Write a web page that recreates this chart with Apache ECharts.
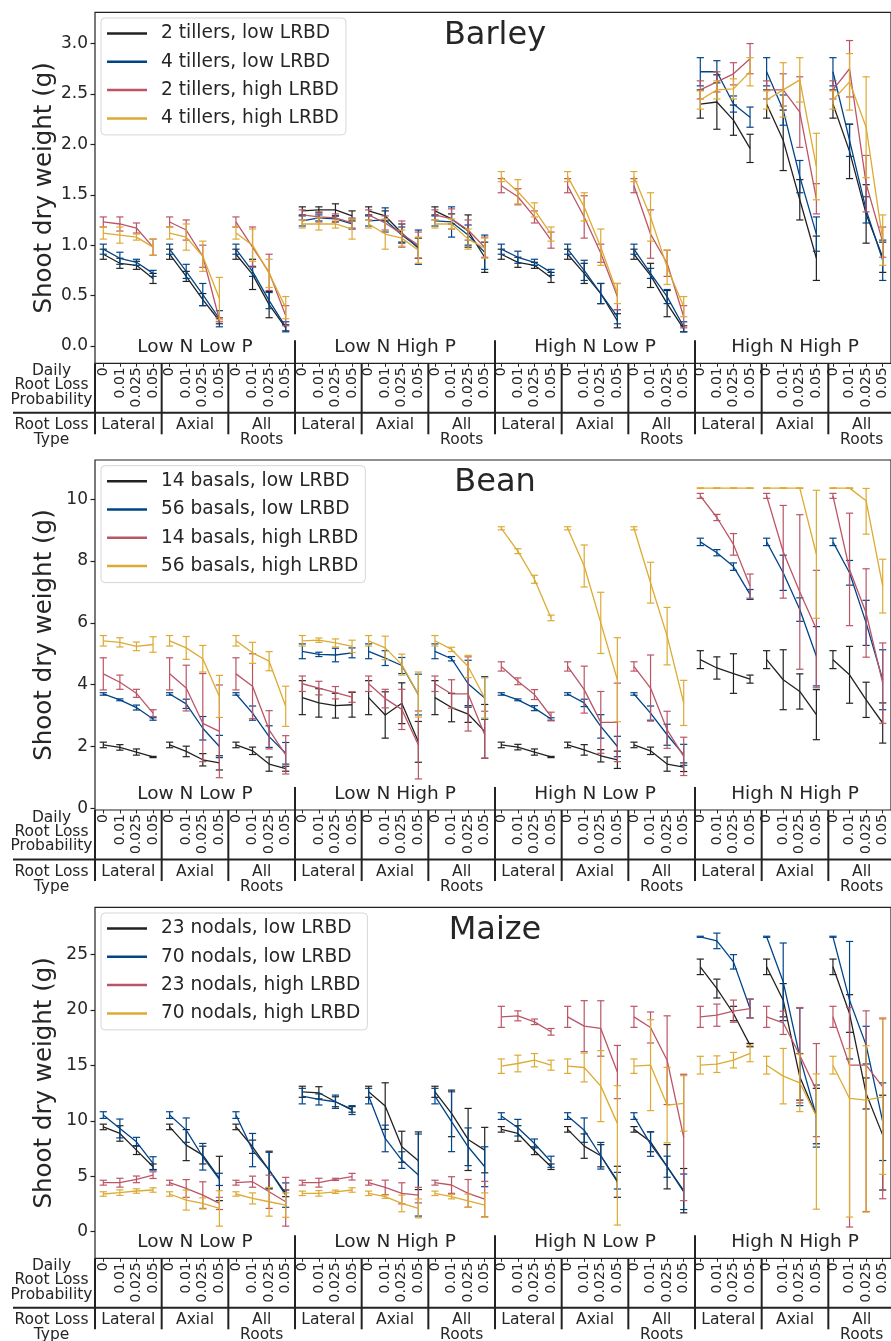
<!DOCTYPE html>
<html>
<head>
<meta charset="utf-8">
<script src="https://cdn.jsdelivr.net/npm/echarts@6/dist/echarts.min.js"></script>
<style>
  html, body { margin: 0; padding: 0; background: #fff; }
  #chart { width: 891px; height: 1341px; }
</style>
</head>
<body>
<div id="chart"></div>
<script>
// x layout: 4 nutrient groups x 3 root loss types x 4 probabilities
const nutrientGroups = ['Low N Low P', 'Low N High P', 'High N Low P', 'High N High P'];
const lossTypes = ['Lateral', 'Axial', 'All\nRoots'];
const probLabels = ['0', '0.01', '0.025', '0.05'];
const colors = ['#222222', '#004488', '#BB5566', '#DDAA33'];

// error entries: a number is a symmetric bar, [down, up] is an uneven one

// ---- Barley ----
const barleyNames = ['2 tillers, low LRBD', '4 tillers, low LRBD', '2 tillers, high LRBD', '4 tillers, high LRBD'];
const barleyTicks = [0, 0.5, 1, 1.5, 2, 2.5, 3];
const barleyMean = [
  [0.91,0.82,0.80,0.67, 0.91,0.69,0.46,0.25, 0.91,0.71,0.41,0.18,
   1.34,1.35,1.35,1.29, 1.34,1.29,1.12,0.97, 1.34,1.26,1.14,0.88,
   0.91,0.83,0.80,0.68, 0.91,0.72,0.52,0.25, 0.91,0.70,0.42,0.17,
   2.40,2.42,2.24,1.96, 2.40,2.04,1.45,0.87, 2.40,1.93,1.31,0.88],
  [0.96,0.87,0.83,0.72, 0.96,0.74,0.51,0.27, 0.96,0.74,0.45,0.19,
   1.24,1.27,1.26,1.21, 1.24,1.25,1.10,0.98, 1.24,1.23,1.10,0.93,
   0.96,0.88,0.83,0.73, 0.96,0.75,0.52,0.29, 0.96,0.72,0.49,0.19,
   2.72,2.72,2.40,2.27, 2.72,2.34,1.68,1.11, 2.72,2.04,1.35,0.85],
  [1.23,1.21,1.17,0.98, 1.23,1.15,0.89,0.26, 1.23,0.98,0.73,0.30,
   1.30,1.28,1.27,1.22, 1.30,1.22,1.11,1.00, 1.30,1.26,1.15,0.98,
   1.59,1.48,1.28,1.05, 1.59,1.28,0.92,0.49, 1.59,1.11,0.82,0.29,
   2.54,2.62,2.70,2.85, 2.54,2.54,2.32,1.46, 2.54,2.75,1.61,1.03],
  [1.12,1.10,1.08,0.98, 1.12,1.08,0.89,0.47, 1.12,1.00,0.72,0.38,
   1.21,1.21,1.21,1.16, 1.21,1.11,1.07,0.95, 1.21,1.21,1.06,0.97,
   1.68,1.53,1.35,1.11, 1.68,1.38,0.98,0.52, 1.68,1.28,0.78,0.39,
   2.44,2.54,2.55,2.72, 2.44,2.54,2.64,1.78, 2.44,2.62,2.17,1.05]
];
const barleyErr = [
  [.05,.05,.04,.05, .05,.05,.06,.03, .05,.15,.13,.03,
   .04,.03,.06,.05, .04,.05,.09,.10, .04,.05,.16,.15,
   .05,.05,.03,.05, .05,.10,.10,.07, .05,.12,.13,.03,
   .14,.27,.15,.14, .14,.30,.20,.22, .14,.27,.29,.15],
  [.05,.06,.03,.03, .05,.07,.11,.08, .05,.05,.08,.05,
   .05,.03,.03,.05, .05,.12,.08,.17, .05,.15,.10,.17,
   .05,.06,.03,.03, .05,.10,.10,.07, .05,.05,.07,.05,
   .14,.11,.08,.10, .14,.15,.16,.17, .14,.16,.13,.20],
  [.05,.07,.05,.08, .05,.10,.11,.02, .05,.20,.18,.10,
   .05,.05,.04,.05, .05,.07,.13,.13, .05,.10,.10,.10,
   .07,.08,.06,.08, .07,.21,.09,.13, .07,.24,.13,.11,
   .09,.10,.11,.15, .09,.16,.35,.15, .09,.28,.28,.15],
  [.06,.08,.03,.08, .06,.13,.15,.21, .06,.16,.14,.11,
   .04,.06,.04,.10, .04,.15,.08,.13, .04,.05,.10,.10,
   .05,.12,.07,.07, .05,.14,.18,.10, .05,.24,.17,.10,
   .09,.09,.10,.14, .09,.27,.22,.33, .09,.28,.50,.25]
];

// ---- Bean ----
const beanNames = ['14 basals, low LRBD', '56 basals, low LRBD', '14 basals, high LRBD', '56 basals, high LRBD'];
const beanTicks = [0, 2, 4, 6, 8, 10];
const beanMean = [
  [2.05,1.97,1.82,1.66, 2.05,1.84,1.57,1.47, 2.05,1.86,1.43,1.28,
   3.58,3.41,3.32,3.35, 3.58,3.02,3.40,2.15, 3.58,3.26,3.05,2.49,
   2.05,1.98,1.82,1.66, 2.05,1.89,1.70,1.57, 2.05,1.86,1.43,1.33,
   4.81,4.54,4.36,4.18, 4.81,4.16,3.78,3.03, 4.81,4.32,3.51,2.76],
  [3.70,3.51,3.26,2.89, 3.70,3.38,2.59,2.00, 3.70,3.08,2.32,1.78,
   5.08,4.98,4.96,5.03, 5.08,4.86,4.62,3.68, 5.08,4.84,4.03,3.57,
   3.70,3.51,3.24,2.89, 3.70,3.41,2.65,2.00, 3.70,3.08,2.38,1.73,
   8.62,8.27,7.82,6.92, 8.62,7.62,6.43,4.92, 8.62,7.62,6.00,4.16],
  [4.35,4.08,3.72,3.08, 4.35,3.89,2.75,2.49, 4.35,3.95,2.54,1.73,
   4.03,3.89,3.74,3.60, 4.03,3.55,3.20,2.05, 4.03,3.70,3.70,2.38,
   4.59,4.11,3.68,2.97, 4.59,3.84,2.78,2.78, 4.59,3.89,2.54,1.68,
   10.11,9.41,8.54,7.19, 10.11,8.30,7.00,5.80, 10.11,7.73,6.32,4.05],
  [5.42,5.37,5.24,5.30, 5.42,5.19,4.84,3.62, 5.42,5.03,4.76,3.30,
   5.42,5.44,5.35,5.24, 5.42,5.19,4.65,3.68, 5.42,5.14,4.59,3.57,
   9.06,8.32,7.41,6.16, 9.06,7.84,6.00,4.16, 9.06,7.30,5.57,3.41,
   10.36,10.36,10.36,10.36, 10.36,10.36,10.36,8.22, 10.36,10.36,9.95,7.19]
];
const beanErr = [
  [.09,.09,.10,.02, .09,.17,.20,.23, .09,.12,.23,.08,
   .55,.46,.40,.40, .55,.75,.66,.66, .55,.46,.27,.87,
   .09,.09,.10,.02, .09,.17,.20,.28, .09,.12,.23,.14,
   .29,.36,.64,.13, .29,.97,.57,.81, .29,.92,.57,.65],
  [.04,.03,.08,.04, .04,.15,.38,.36, .04,.23,.35,.35,
   .24,.07,.22,.16, .24,.24,.26,.66, .24,.07,.76,.69,
   .04,.03,.08,.04, .04,.12,.38,.33, .04,.23,.34,.34,
   .12,.10,.12,.16, .12,.57,.38,.96, .12,.40,.73,.97],
  [.52,.23,.13,.11, .52,.74,[1.24,1.61],1.50, .52,1.05,.62,.62,
   .25,.22,.20,.17, .25,.30,.65,1.10, .25,.46,1.20,.76,
   .15,.11,.16,.14, .15,.76,1.00,1.27, .15,1.07,.60,.62,
   .08,.10,.35,.39, .08,1.50,2.50,1.90, .08,1.82,1.43,1.30],
  [.17,.15,.14,.25, .17,.37,.43,.68, .17,.34,.31,.65,
   .17,.07,.13,.20, .17,.38,.34,.73, .17,.07,.36,.65,
   .05,.08,.13,.09, .05,.68,.99,1.36, .05,.66,.93,.73,
   .01,.01,.01,.01, .01,.01,.01,2.07, .01,.01,[1.08,0.40],.87]
];

// ---- Maize ----
const maizeNames = ['23 nodals, low LRBD', '70 nodals, low LRBD', '23 nodals, high LRBD', '70 nodals, high LRBD'];
const maizeTicks = [0, 5, 10, 15, 20, 25];
const maizeMean = [
  [9.45,8.86,7.36,5.86, 9.45,7.81,6.91,4.80, 9.45,7.66,5.56,3.46,
   12.62,12.53,11.72,11.03, 12.62,11.33,7.66,6.40, 12.62,10.67,8.32,7.36,
   9.23,8.86,7.30,5.86, 9.23,7.72,6.85,4.50, 9.23,8.11,5.86,3.70,
   23.89,21.93,19.68,16.83, 23.89,20.88,13.97,10.43, 23.89,19.68,12.47,8.71],
  [10.52,9.31,8.11,6.16, 10.52,9.16,6.76,4.72, 10.52,7.36,5.56,3.30,
   12.23,11.93,11.72,10.97, 12.23,8.41,6.46,5.11, 12.23,9.92,7.66,5.86,
   10.43,9.38,7.96,6.31, 10.43,9.16,6.85,4.60, 10.43,7.90,5.86,3.60,
   26.60,26.23,24.34,20.13, 26.60,22.54,15.77,10.43, 26.60,20.88,16.83,9.92],
  [4.42,4.42,4.72,5.10, 4.42,3.90,3.30,2.55, 4.42,4.51,3.60,2.70,
   4.42,4.42,4.72,4.96, 4.42,4.00,3.46,3.30, 4.42,4.21,3.46,2.94,
   19.38,19.47,18.93,18.03, 19.38,18.54,18.33,14.40, 19.38,18.42,15.47,8.50,
   19.38,19.53,19.89,20.13, 19.38,18.84,15.92,12.77, 19.38,15.02,15.02,13.07],
  [3.40,3.52,3.67,3.76, 3.40,2.85,2.55,2.10, 3.40,3.00,2.70,2.40,
   3.46,3.46,3.60,3.76, 3.46,3.16,2.55,2.10, 3.46,3.16,2.79,2.40,
   14.93,15.17,15.47,15.02, 14.93,14.81,13.13,9.77, 14.93,15.02,11.42,11.57,
   15.02,15.11,15.47,16.08, 15.02,14.03,13.43,10.43, 15.02,12.02,11.87,12.17]
];
const maizeErr = [
  [.25,.70,.40,.25, .25,1.40,.80,2.00, .25,.60,1.70,.30,
   .50,.55,.45,.25, .50,2.10,1.40,2.60, .50,2.10,2.80,2.05,
   .25,.70,.35,.25, .25,1.10,1.00,1.40, .25,.90,2.00,2.00,
   .70,.85,.65,.15, .70,1.50,2.10,2.50, .70,1.70,1.40,[4.95,3.60]],
  [.30,.85,.40,.60, .30,1.10,1.20,.55, .30,1.50,1.60,1.10,
   .70,.50,.60,.40, .70,1.20,.75,3.70, .70,2.70,1.70,1.80,
   .30,.75,.40,.50, .30,1.10,1.20,.75, .30,1.10,.95,1.60,
   .05,.70,.65,.85, .05,3.50,4.40,2.80, .05,5.30,1.70,3.50],
  [.22,.40,.30,.30, .22,.80,1.20,.55, .22,.50,1.50,2.20,
   .22,.40,.10,.30, .22,.65,.95,.70, .22,.75,1.25,1.60,
   .95,.45,.25,.30, .95,2.30,2.50,2.40, .95,1.40,4.00,5.70,
   .95,1.00,1.00,.85, .95,1.05,4.30,4.20, .95,[14.60,5.20],[13.20,4.90],[10.10,6.20]],
  [.20,.25,.20,.20, .20,.90,.50,1.60, .20,.50,1.30,1.10,
   .20,.25,.15,.20, .20,.15,.75,.85, .20,.20,.60,1.10,
   .65,.75,.60,.45, .65,1.30,3.20,[9.17,3.40], .65,4.10,3.40,2.50,
   .80,.75,.70,.75, .80,2.50,2.60,[8.40,3.80], .80,[10.70,4.50],[10.10,4.90],7.00]
];

// ---- layout ----
const FONT = 'DejaVu Sans';
const TXT = '#262626';
const LEFT = 95, PLOT_W = 800, N = 48, STEP = PLOT_W / N;

const panels = [
  { title: 'Barley', names: barleyNames, mean: barleyMean, err: barleyErr, ticks: barleyTicks,
    top: 12.3, height: 351, min: -0.172, max: 3.31, fmt: v => v.toFixed(1) },
  { title: 'Bean', names: beanNames, mean: beanMean, err: beanErr, ticks: beanTicks,
    top: 460, height: 350, min: -0.055, max: 11.27, fmt: v => String(v) },
  { title: 'Maize', names: maizeNames, mean: maizeMean, err: maizeErr, ticks: maizeTicks,
    top: 907.3, height: 351, min: -2.40, max: 29.26, fmt: v => String(v) }
];

const categories = [];
nutrientGroups.forEach((g, gi) => lossTypes.forEach((t, ti) => probLabels.forEach((p, pi) => {
  categories.push(gi + '|' + ti + '|' + p);
})));

function errorBarItem(params, api) {
  const x = api.value(0);
  const lo = api.coord([x, api.value(1)]);
  const hi = api.coord([x, api.value(2)]);
  const w = 3.6;
  const style = { stroke: api.visual('color'), lineWidth: 1.2 };
  return {
    type: 'group',
    children: [
      { type: 'line', shape: { x1: lo[0], y1: lo[1], x2: hi[0], y2: hi[1] }, style },
      { type: 'line', shape: { x1: lo[0] - w, y1: lo[1], x2: lo[0] + w, y2: lo[1] }, style },
      { type: 'line', shape: { x1: hi[0] - w, y1: hi[1], x2: hi[0] + w, y2: hi[1] }, style }
    ]
  };
}

const grid = [], xAxis = [], yAxis = [], legend = [], series = [], graphic = [];

panels.forEach((p, i) => {
  const B = p.top + p.height;
  grid.push({ left: LEFT, top: p.top, width: PLOT_W, height: p.height, show: true,
    borderColor: '#222', borderWidth: 1.2, backgroundColor: 'transparent' });

  xAxis.push({
    type: 'category', gridIndex: i, data: categories,
    axisLine: { show: false, onZero: false },
    axisTick: { show: true, alignWithLabel: true, length: 3.5, lineStyle: { color: '#222', width: 1 } },
    axisLabel: { interval: 0, rotate: 90, fontSize: 14, fontFamily: FONT, color: TXT, margin: 4,
      formatter: (v, idx) => probLabels[idx % 4] },
    splitLine: { show: false }
  });

  yAxis.push({
    type: 'value', gridIndex: i, min: p.min, max: p.max,
    name: 'Shoot dry weight (g)', nameLocation: 'middle', nameGap: 38, nameMoveOverlap: false,
    nameTextStyle: { fontSize: 24.5, fontFamily: FONT, color: TXT },
    axisLine: { show: false },
    axisTick: { show: true, length: 4.5, customValues: p.ticks, lineStyle: { color: '#222', width: 1.2 } },
    axisLabel: { customValues: p.ticks, formatter: p.fmt, fontSize: 17, fontFamily: FONT, color: TXT, margin: 7 },
    splitLine: { show: false }
  });

  legend.push({
    orient: 'vertical', left: 101, top: p.top + 5.7, data: p.names,
    icon: 'rect', itemWidth: 40, itemHeight: 2.5, itemGap: 9.3,
    padding: [6, 7, 7, 6], borderColor: '#d6d6d6', borderWidth: 1, borderRadius: 4,
    backgroundColor: 'rgba(255,255,255,0.85)', selectedMode: false,
    textStyle: { fontSize: 18.6, fontFamily: FONT, color: TXT, padding: [0, 0, 0, 9] }
  });

  p.names.forEach((name, k) => {
    const m = p.mean[k], e = p.err[k];
    const lineData = [], errData = [];
    for (let j = 0; j < N; j++) {
      lineData.push([j, m[j]]);
      if (j % 4 === 3) lineData.push([j, '-']);
      const down = Array.isArray(e[j]) ? e[j][0] : e[j];
      const up = Array.isArray(e[j]) ? e[j][1] : e[j];
      errData.push([j, m[j] - down, m[j] + up]);
    }
    series.push({
      type: 'line', name, xAxisIndex: i, yAxisIndex: i, data: lineData,
      showSymbol: false, symbol: 'none', connectNulls: false, silent: true,
      lineStyle: { color: colors[k], width: 1.3 }, itemStyle: { color: colors[k] }, z: 2 + k
    });
    series.push({
      type: 'custom', name, xAxisIndex: i, yAxisIndex: i, data: errData,
      renderItem: errorBarItem, encode: { x: 0, y: [1, 2] }, silent: true,
      itemStyle: { color: colors[k] }, z: 2 + k
    });
  });

  // title
  graphic.push({ type: 'text', x: LEFT + PLOT_W / 2, y: p.top + 23, z: 100,
    style: { text: p.title, fontSize: 32, fontFamily: FONT, fill: TXT, align: 'center', verticalAlign: 'middle' } });

  // nutrient group labels and separators inside plot
  nutrientGroups.forEach((g, gi) => {
    graphic.push({ type: 'text', x: LEFT + gi * 200 + 100, y: B - 15.7, z: 100,
      style: { text: g, fontSize: 18.5, fontFamily: FONT, fill: TXT, align: 'center', verticalAlign: 'middle' } });
    if (gi > 0) {
      graphic.push({ type: 'line', z: 100, shape: { x1: LEFT + gi * 200, y1: B - 23, x2: LEFT + gi * 200, y2: B },
        style: { stroke: '#222', lineWidth: 2 } });
    }
  });

  // table verticals
  for (let k = 0; k <= 12; k++) {
    const x = LEFT + k * STEP * 4;
    graphic.push({ type: 'line', z: 100, shape: { x1: x, y1: B, x2: x, y2: B + 71 },
      style: { stroke: '#222', lineWidth: 2 } });
  }
  // table horizontal
  graphic.push({ type: 'line', z: 100, shape: { x1: 13, y1: B + 49.5, x2: 891, y2: B + 49.5 },
    style: { stroke: '#222', lineWidth: 2 } });

  // row labels
  graphic.push({ type: 'text', x: 51.5, y: B + 22, z: 100,
    style: { text: 'Daily\nRoot Loss\nProbability', fontSize: 15.5, lineHeight: 14.3, fontFamily: FONT,
      fill: TXT, align: 'center', verticalAlign: 'middle' } });
  graphic.push({ type: 'text', x: 51.5, y: B + 54, z: 100,
    style: { text: 'Root Loss\nType', fontSize: 15.5, lineHeight: 15, fontFamily: FONT,
      fill: TXT, align: 'center', verticalAlign: 'top' } });

  nutrientGroups.forEach((g, gi) => lossTypes.forEach((t, ti) => {
    graphic.push({ type: 'text', x: LEFT + (gi * 3 + ti) * STEP * 4 + STEP * 2, y: B + 54, z: 100,
      style: { text: t, fontSize: 15.5, lineHeight: 15, fontFamily: FONT, fill: TXT, align: 'center', verticalAlign: 'top' } });
  }));
});

const chart = echarts.init(document.getElementById('chart'), null, { renderer: 'canvas' });
chart.setOption({
  animation: false,
  backgroundColor: '#fff',
  textStyle: { fontFamily: FONT },
  grid, xAxis, yAxis, legend, series, graphic
});
</script>
</body>
</html>
